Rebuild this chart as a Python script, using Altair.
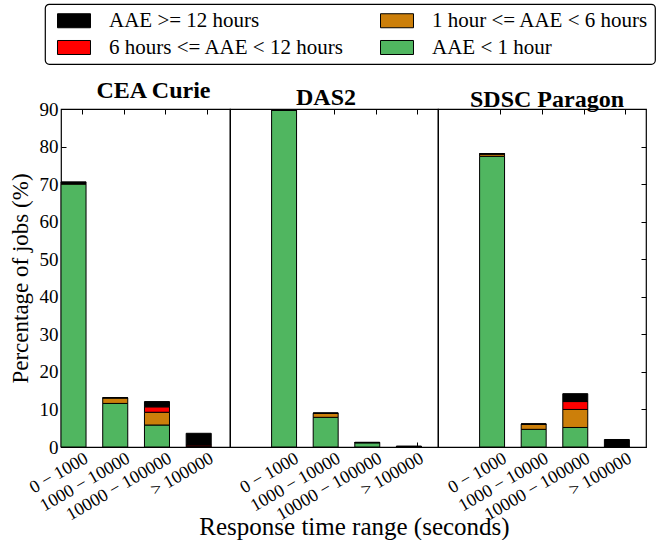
import json
import altair as alt
import pandas as pd

SERIF = "Liberation Serif"

systems = ["CEA Curie", "DAS2", "SDSC Paragon"]
ranges = ["0 − 1000", "1000 − 10000", "10000 − 100000", "> 100000"]
categories = ["AAE < 1 hour", "1 hour <= AAE < 6 hours",
              "6 hours <= AAE < 12 hours", "AAE >= 12 hours"]
legend_order = ["AAE >= 12 hours", "6 hours <= AAE < 12 hours",
                "1 hour <= AAE < 6 hours", "AAE < 1 hour"]
legend_colors = ["#000000", "#ff0000", "#cc7f0a", "#50b660"]

# percentage of jobs per response-time range (one list per AAE class)
curie_lt1h = [70.0, 11.6, 5.85, 0.05]
curie_1to6h = [0.2, 1.5, 3.4, 0.05]
curie_6to12h = [0.05, 0.0, 1.45, 0.4]
curie_ge12h = [0.35, 0.0, 1.4, 3.15]

das2_lt1h = [89.6, 7.9, 1.1, 0.1]
das2_1to6h = [0.15, 1.1, 0.1, 0.0]
das2_6to12h = [0.0, 0.0, 0.0, 0.0]
das2_ge12h = [0.1, 0.0, 0.05, 0.15]

paragon_lt1h = [77.4, 4.7, 5.2, 0.0]
paragon_1to6h = [0.6, 1.4, 4.8, 0.0]
paragon_6to12h = [0.05, 0.0, 2.1, 0.0]
paragon_ge12h = [0.1, 0.0, 2.1, 2.0]

series = {
    "CEA Curie": [curie_lt1h, curie_1to6h, curie_6to12h, curie_ge12h],
    "DAS2": [das2_lt1h, das2_1to6h, das2_6to12h, das2_ge12h],
    "SDSC Paragon": [paragon_lt1h, paragon_1to6h, paragon_6to12h, paragon_ge12h],
}

rows = []
for sysname in systems:
    for k, cat in enumerate(categories):
        for i, rng in enumerate(ranges):
            rows.append({"system": sysname, "category": cat, "stackorder": k,
                         "slot": i, "range": rng, "value": series[sysname][k][i]})
df = pd.DataFrame(rows)

label_expr = json.dumps(ranges) + "[floor(datum.value)]"
tick_vals = [0.5, 1.5, 2.5, 3.5]
y_vals = list(range(0, 100, 10))

widths = {"CEA Curie": 169, "DAS2": 208, "SDSC Paragon": 208}
xdomains = {"CEA Curie": [0, 4.05], "DAS2": [-1, 4], "SDSC Paragon": [-1, 4]}
title_dx = {"CEA Curie": 8, "DAS2": -8, "SDSC Paragon": 5}
PLOT_H = 338


def panel(sysname, idx):
    base = alt.Chart(df[df.system == sysname]).transform_calculate(
        right="datum.slot + 0.6"
    ).transform_stack(
        stack="value", groupby=["slot"], sort=[alt.SortField("stackorder")],
        as_=["y0", "y1"],
    )
    xscale = alt.Scale(domain=xdomains[sysname], nice=False, zero=False)
    yscale = alt.Scale(domain=[0, 90], nice=False)

    bottom_axis = alt.Axis(
        values=tick_vals, labelExpr=label_expr, labelAngle=-30, labelAlign="right",
        labelBaseline="top", labelFont=SERIF, labelFontSize=18, labelColor="black",
        labelPadding=2, labelOverlap=False, labelBound=False, labelFlush=False,
        tickSize=5, offset=-5, domain=False, grid=False,
        tickColor="black", tickWidth=1,
        title="Response time range (seconds)" if idx == 1 else None,
        titleFont=SERIF, titleFontSize=25, titleFontWeight="normal", titleColor="black",
        titleX=124, titleY=92, titleBaseline="alphabetic",
    )
    if idx == 0:
        left_axis = alt.Axis(
            values=y_vals, tickSize=5, offset=-5, domain=False, grid=False,
            tickColor="black", labelFont=SERIF, labelFontSize=19, labelColor="black",
            labelPadding=3, labelOverlap=False, title="Percentage of jobs (%)",
            titleFont=SERIF, titleFontSize=23, titleFontWeight="normal",
            titleColor="black", titlePadding=7,
        )
    else:
        left_axis = None

    color_legend = None
    if idx == 0:
        color_legend = alt.Legend(
            orient="none", legendX=-16, legendY=-105, columns=2, title=None,
            symbolType="M-2,-0.85H2V0.85H-2Z", symbolSize=272,
            symbolOffset=12.5, symbolStrokeColor="black", symbolStrokeWidth=1,
            labelFont=SERIF, labelFontSize=21, labelColor="black", labelOffset=24.5,
            labelLimit=400, rowPadding=5, columnPadding=29,
            strokeColor="black", cornerRadius=4,
            fillColor="white", padding=6,
        )

    bars = base.mark_bar(stroke="black", strokeWidth=1).encode(
        x=alt.X("slot:Q", scale=xscale, axis=bottom_axis),
        x2="right:Q",
        y=alt.Y("y0:Q", scale=yscale, axis=left_axis),
        y2="y1:Q",
        color=alt.Color("category:N",
                        scale=alt.Scale(domain=legend_order, range=legend_colors),
                        legend=color_legend),
    )

    top_axis = alt.Axis(orient="top", values=tick_vals, labels=False, tickSize=5,
                        offset=-5, domain=False, grid=False, tickColor="black",
                        title=None)
    right_axis = None
    if idx == 2:
        right_axis = alt.Axis(orient="right", values=y_vals, labels=False,
                              tickSize=5, offset=-5, domain=False, grid=False,
                              tickColor="black", title=None)
    ghost = base.mark_point(opacity=0).encode(
        x=alt.X("slot:Q", scale=xscale, axis=top_axis),
        y=alt.Y("y1:Q", scale=yscale, axis=right_axis),
    )

    return alt.layer(bars, ghost).resolve_axis(
        x="independent", y="independent"
    ).properties(
        width=widths[sysname], height=PLOT_H,
        title=alt.TitleParams(sysname, font=SERIF, fontSize=24, fontWeight="bold",
                              color="black", dx=title_dx[sysname], offset=-3),
    )


chart = alt.hconcat(*[panel(s, i) for i, s in enumerate(systems)],
                    spacing=0, bounds="flush").configure(
    font=SERIF, padding={"left": 8, "top": 3, "right": 0, "bottom": 0}
).configure_view(stroke="black", strokeWidth=1.2).configure_legend(strokeWidth=1.2)

chart.save("out.html", embed_options={"renderer": "svg", "actions": False})
